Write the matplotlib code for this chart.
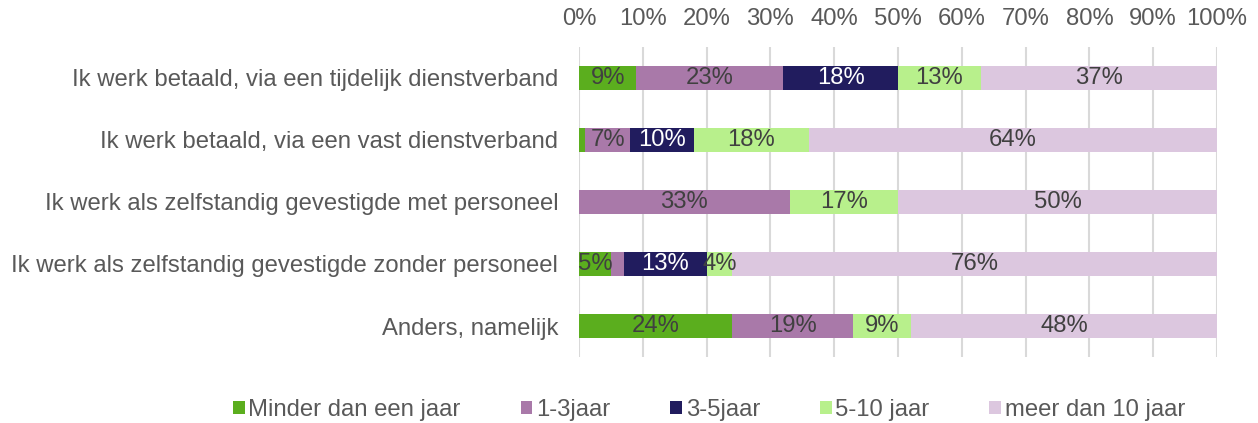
import matplotlib.pyplot as plt
import numpy as np

plt.rcParams['font.family'] = ['Liberation Sans', 'DejaVu Sans']

# Data
categories = ['Ik werk betaald, via een tijdelijk dienstverband',
              'Ik werk betaald, via een vast dienstverband',
              'Ik werk als zelfstandig gevestigde met personeel',
              'Ik werk als zelfstandig gevestigde zonder personeel',
              'Anders, namelijk']
series = ['Minder dan een jaar', '1-3jaar', '3-5jaar', '5-10 jaar', 'meer dan 10 jaar']
minder_1 = [9, 1, 0, 5, 24]
jaar_1_3 = [23, 7, 33, 2, 19]
jaar_3_5 = [18, 10, 0, 13, 0]
jaar_5_10 = [13, 18, 17, 4, 9]
meer_10 = [37, 64, 50, 76, 48]
min_label = 3  # segments below this are not labelled

values = [minder_1, jaar_1_3, jaar_3_5, jaar_5_10, meer_10]
colors = ['#5BAE1E', '#A979A9', '#211C5E', '#B8F08C', '#DCC7DF']
text_colors = ['#404040', '#404040', 'white', '#404040', '#404040']
fs = 17.2

fig = plt.figure(figsize=(12.58, 4.23), dpi=100)
ax = fig.add_axes([0.4603, 0.156, 0.5071, 0.733])

y = np.arange(len(categories))
left = np.zeros(len(categories))
for vals, name, col, tcol in zip(values, series, colors, text_colors):
    vals = np.array(vals, dtype=float)
    ax.barh(y, vals, left=left, height=0.4, color=col, label=name, zorder=3)
    for yi, (l, v) in enumerate(zip(left, vals)):
        if v >= min_label:
            ax.text(l + v / 2, yi, f'{int(v)}%', ha='center', va='center',
                    fontsize=fs, color=tcol, zorder=4)
    left += vals

ax.set_xlim(0, 100)
ax.set_ylim(len(categories) - 0.5, -0.5)
ax.set_xticks(np.arange(0, 101, 10))
ax.set_xticklabels([f'{t}%' for t in range(0, 101, 10)])
ax.xaxis.tick_top()
ax.set_yticks(y)
ax.set_yticklabels(categories)
ax.tick_params(axis='x', length=0, pad=12, labelsize=fs, labelcolor='#595959')
ax.tick_params(axis='y', length=0, pad=15, labelsize=fs, labelcolor='#595959')
ax.grid(axis='x', color='#D9D9D9', linewidth=1.5, zorder=0)
for s in ax.spines.values():
    s.set_visible(False)

handles, labels = ax.get_legend_handles_labels()
fig.legend(handles, labels, loc='center', bbox_to_anchor=(709 / 1258, 1 - 410 / 423),
           ncol=5, frameon=False, fontsize=fs, labelcolor='#595959',
           handlelength=0.5, handleheight=0.5, handletextpad=0.15, columnspacing=2.5)

plt.savefig('out.png', dpi=100)
